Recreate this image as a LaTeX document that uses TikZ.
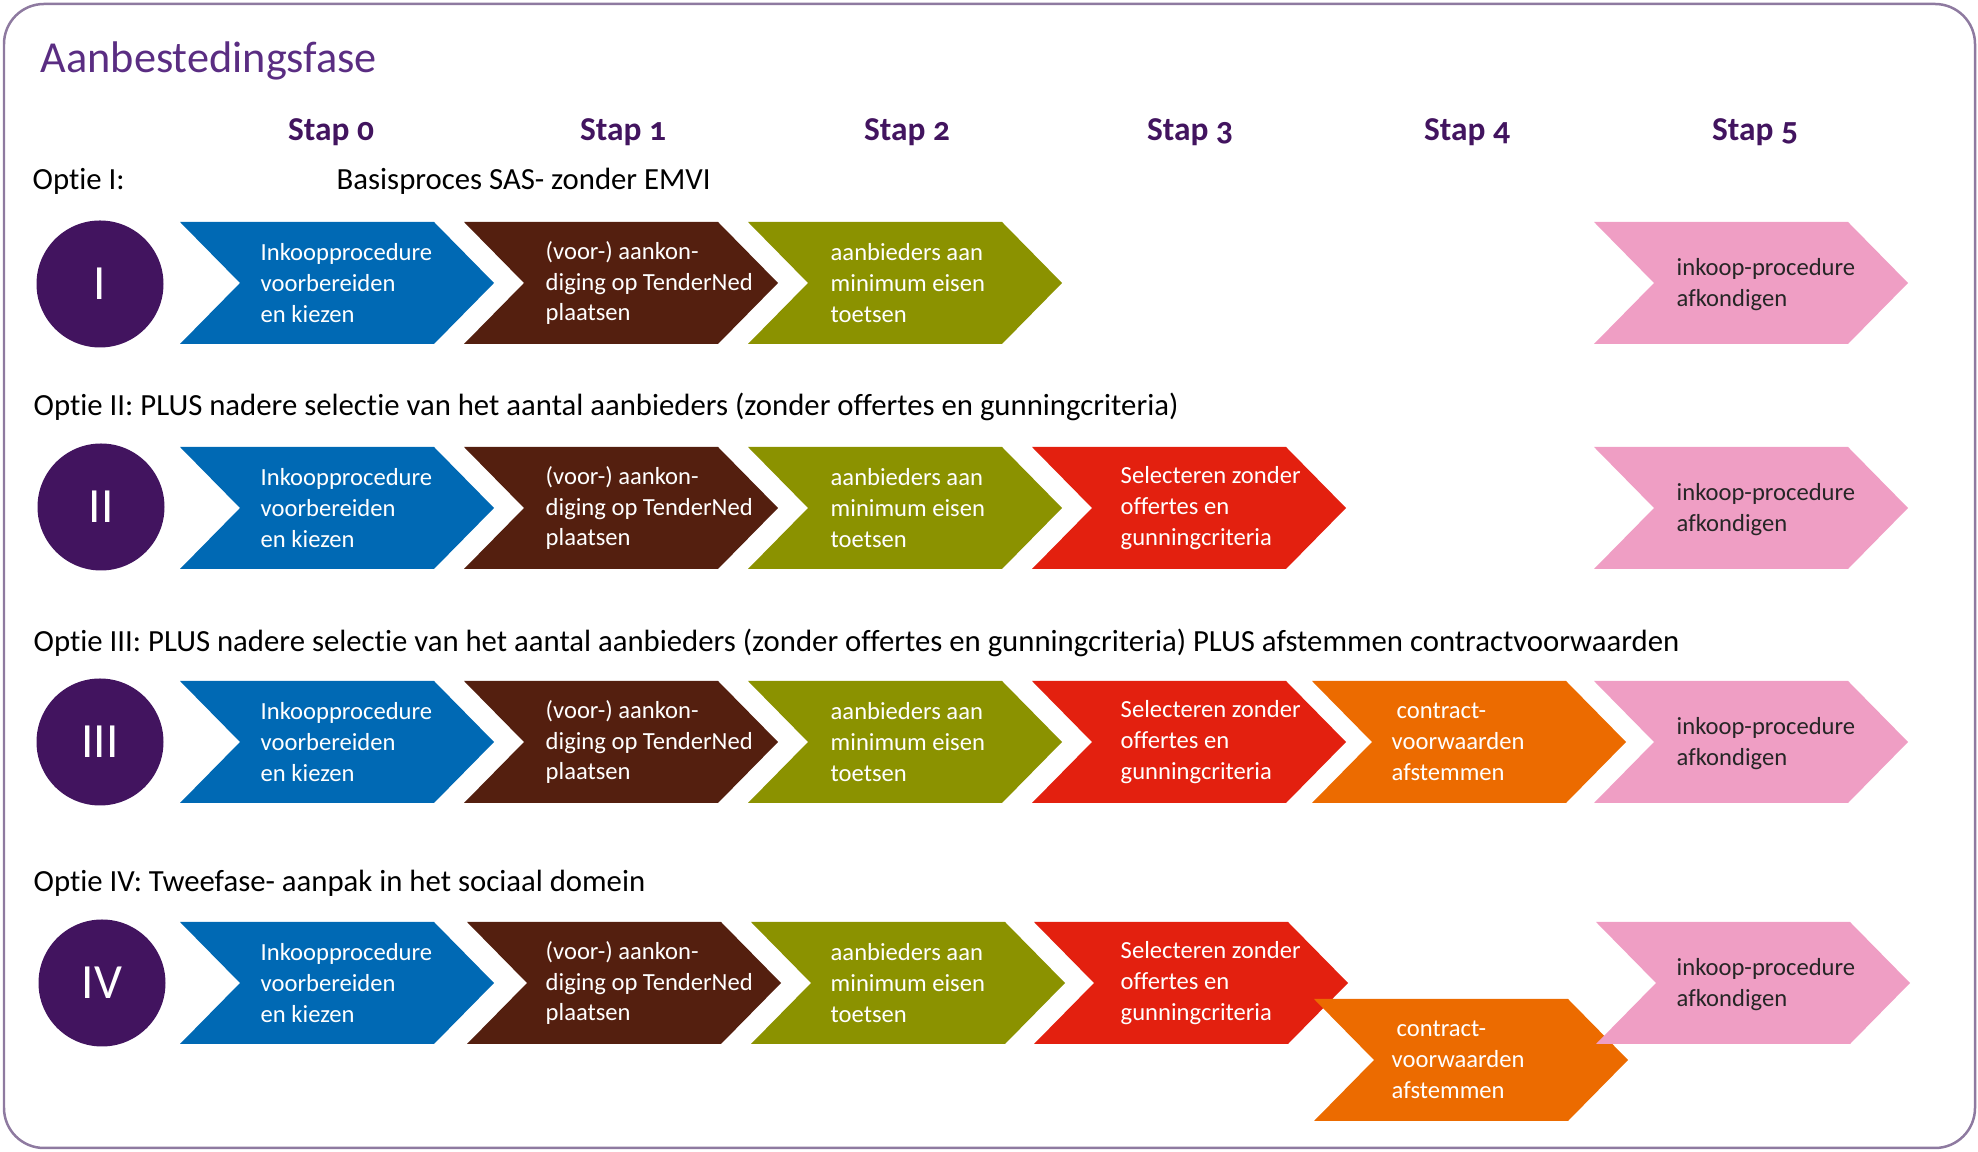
\documentclass[tikz,border=0pt]{standalone}
\usepackage{fontspec}
\setmainfont[Ligatures=NoCommon]{Carlito}
\newfontfamily\stapfont[Numbers=OldStyle]{Carlito}
\usepackage{tikz}
\definecolor{paars}{HTML}{42145F}
\definecolor{titelpaars}{HTML}{5A2D82}
\definecolor{randpaars}{HTML}{8E7AA0}
\definecolor{blauw}{HTML}{0069B4}
\definecolor{bruin}{HTML}{541F0F}
\definecolor{olijf}{HTML}{8B9200}
\definecolor{rood}{HTML}{E3200F}
\definecolor{oranje}{HTML}{EC6B00}
\definecolor{roze}{HTML}{EF9EC4}

\begin{document}
\begin{tikzpicture}[x=0.1mm,y=-0.1mm,
		chevron/.pic={\fill (0,-61) -- (254,-61) -- (314,0) -- (254,61) -- (0,61) -- (60,0) -- cycle;},
		blok/.style={anchor=west,align=left,inner sep=0pt,text=white,font=\fontsize{7}{8.8}\selectfont},
		cirkel/.style={circle,fill=paars,minimum size=12.7mm,inner sep=0pt,text=white,font=\fontsize{14}{14}\selectfont},
		stapkop/.style={inner sep=0pt,text=paars,font=\fontsize{9.5}{10}\stapfont\bfseries},
		optie/.style={anchor=west,inner sep=0pt,font=\fontsize{8.75}{10}\selectfont}]
		\useasboundingbox (0,0) rectangle (1978,1152);
		\draw[randpaars,line width=0.25mm,rounded corners=4mm] (4,4) rectangle (1975,1148);
		\node[anchor=west,inner sep=0pt,text=titelpaars,font=\fontsize{12.6}{14}\selectfont] (titel) at (40,61) {Aanbestedingsfase};
		\node[stapkop] (s0) at (331,132) {Stap 0};
		\node[stapkop] (s1) at (623,132) {Stap 1};
		\node[stapkop] (s2) at (907,132) {Stap 2};
		\node[stapkop] (s3) at (1190,132) {Stap 3};
		\node[stapkop] (s4) at (1467,132) {Stap 4};
		\node[stapkop] (s5) at (1755,132) {Stap 5};

		\node[optie] (o1) at (32,181) {Optie I:};
		\node[optie] (o1b) at (336,181) {Basisproces SAS- zonder EMVI};
		\node[cirkel] (c1) at (100,284) {I};
		\pic[fill=blauw] at (180,283) {chevron};
		\node[blok] (a1) at (260,283) {Inkoopprocedure\\voorbereiden\\en kiezen};
		\pic[fill=bruin] at (464,283) {chevron};
		\node[blok] (b1) at (545,283) {(voor-) aankon-\\diging op TenderNed\\plaatsen};
		\pic[fill=olijf] at (748,283) {chevron};
		\node[blok] (d1) at (830,283) {aanbieders aan\\minimum eisen\\toetsen};
		\pic[fill=roze] at (1594,283) {chevron};
		\node[blok,text=black!85] (p1) at (1676,285) {inkoop-procedure\\afkondigen};

		\node[optie] (o2) at (33,407) {Optie II: PLUS nadere selectie van het aantal aanbieders (zonder offertes en gunningcriteria)};
		\node[cirkel] (c2) at (101,507) {II};
		\pic[fill=blauw] at (180,508) {chevron};
		\node[blok] (a2) at (260,508) {Inkoopprocedure\\voorbereiden\\en kiezen};
		\pic[fill=bruin] at (464,508) {chevron};
		\node[blok] (b2) at (545,508) {(voor-) aankon-\\diging op TenderNed\\plaatsen};
		\pic[fill=olijf] at (748,508) {chevron};
		\node[blok] (d2) at (830,508) {aanbieders aan\\minimum eisen\\toetsen};
		\pic[fill=rood] at (1032,508) {chevron};
		\node[blok] (r2) at (1120,508) {Selecteren zonder\\offertes en\\gunningcriteria};
		\pic[fill=roze] at (1594,508) {chevron};
		\node[blok,text=black!85] (p2) at (1676,510) {inkoop-procedure\\afkondigen};

		\node[optie] (o3) at (33,643) {Optie III: PLUS nadere selectie van het aantal aanbieders (zonder offertes en gunningcriteria) PLUS afstemmen contractvoorwaarden};
		\node[cirkel] (c3) at (100,742) {III};
		\pic[fill=blauw] at (180,742) {chevron};
		\node[blok] (a3) at (260,742) {Inkoopprocedure\\voorbereiden\\en kiezen};
		\pic[fill=bruin] at (464,742) {chevron};
		\node[blok] (b3) at (545,742) {(voor-) aankon-\\diging op TenderNed\\plaatsen};
		\pic[fill=olijf] at (748,742) {chevron};
		\node[blok] (d3) at (830,742) {aanbieders aan\\minimum eisen\\toetsen};
		\pic[fill=rood] at (1032,742) {chevron};
		\node[blok] (r3) at (1120,742) {Selecteren zonder\\offertes en\\gunningcriteria};
		\pic[fill=oranje] at (1312,742) {chevron};
		\node[blok] (k3) at (1391,742) {\hspace*{0.5mm}contract-\\voorwaarden\\afstemmen};
		\pic[fill=roze] at (1594,742) {chevron};
		\node[blok,text=black!85] (p3) at (1676,744) {inkoop-procedure\\afkondigen};

		\node[optie] (o4) at (33,883) {Optie IV: Tweefase- aanpak in het sociaal domein};
		\node[cirkel] (c4) at (102,983) {IV};
		\pic[fill=blauw] at (180,983) {chevron};
		\node[blok] (a4) at (260,983) {Inkoopprocedure\\voorbereiden\\en kiezen};
		\pic[fill=bruin] at (467,983) {chevron};
		\node[blok] (b4) at (545,983) {(voor-) aankon-\\diging op TenderNed\\plaatsen};
		\pic[fill=olijf] at (751,983) {chevron};
		\node[blok] (d4) at (830,983) {aanbieders aan\\minimum eisen\\toetsen};
		\pic[fill=rood] at (1034,983) {chevron};
		\node[blok] (r4) at (1120,983) {Selecteren zonder\\offertes en\\gunningcriteria};
		\pic[fill=oranje] at (1314,1060) {chevron};
		\node[blok] (k4) at (1391,1060) {\hspace*{0.5mm}contract-\\voorwaarden\\afstemmen};
		\pic[fill=roze] at (1596,983) {chevron};
		\node[blok,text=black!85] (p4) at (1676,985) {inkoop-procedure\\afkondigen};
	\end{tikzpicture}
\end{document}
